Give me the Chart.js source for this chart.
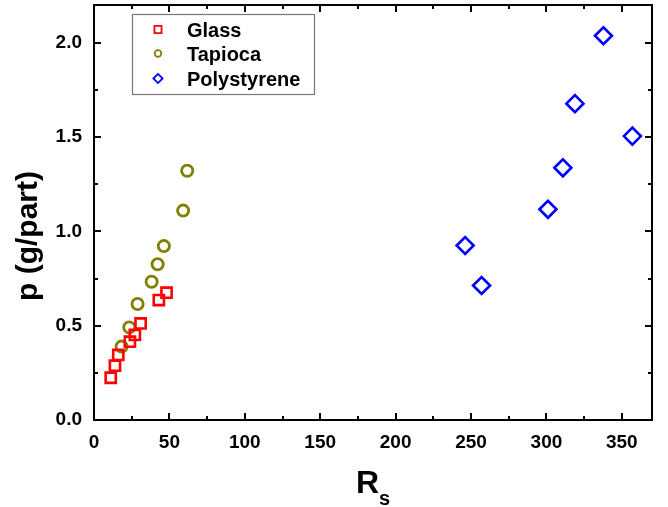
<!DOCTYPE html>
<html>
<head>
<meta charset="utf-8">
<script src="https://cdn.jsdelivr.net/npm/chart.js@4/dist/chart.umd.min.js"></script>
<style>
  html, body { margin: 0; padding: 0; background: #fff; }
  #wrap { width: 668px; height: 507px; }
</style>
</head>
<body>
<div id="wrap"><canvas id="rsChart"></canvas></div>
<script>
// values
const glassRs = [11.1, 13.9, 16.1, 23.8, 27.1, 30.9, 43.0, 48.1];
const glassP = [0.224, 0.288, 0.345, 0.415, 0.451, 0.512, 0.636, 0.675];
const tapiocaRs = [18.3, 23.4, 28.9, 38.2, 42.2, 46.3, 59.1, 61.8];
const tapiocaP = [0.389, 0.491, 0.615, 0.733, 0.826, 0.922, 1.11, 1.321];
const polyRs = [246.1, 257.0, 301.0, 310.9, 318.9, 337.8, 357.0];
const polyP = [0.925, 0.713, 1.117, 1.337, 1.677, 2.037, 1.505];
const seriesNames = ['Glass', 'Tapioca', 'Polystyrene'];

const FONT = "'Liberation Sans', Arial, sans-serif";
Chart.defaults.font.family = FONT;
Chart.defaults.color = '#000';

function toPoints(xs, ys) {
    return xs.map((x, i) => ({ x: x, y: ys[i] }));
}

// frame, inward ticks on all four sides, legend box and axis titles
const framePlugin = {
    id: 'frame',
    afterDraw(chart) {
        const ctx = chart.ctx;
        const a = chart.chartArea;
        const xs = chart.scales.x, ys = chart.scales.y;
        ctx.save();
        ctx.strokeStyle = '#000';
        ctx.lineWidth = 2;
        ctx.strokeRect(a.left, a.top, a.right - a.left, a.bottom - a.top);

        ctx.beginPath();
        xs.ticks.forEach(t => {
            const px = Math.round(xs.getPixelForValue(t.value));
            const len = t.label !== '' ? 7 : 4;
            ctx.moveTo(px, a.bottom); ctx.lineTo(px, a.bottom - len);
            ctx.moveTo(px, a.top); ctx.lineTo(px, a.top + len);
        });
        ys.ticks.forEach(t => {
            const py = Math.round(ys.getPixelForValue(t.value));
            const len = t.label !== '' ? 7 : 4;
            ctx.moveTo(a.left, py); ctx.lineTo(a.left + len, py);
            ctx.moveTo(a.right, py); ctx.lineTo(a.right - len, py);
        });
        ctx.stroke();

        // legend
        ctx.fillStyle = '#fff';
        ctx.fillRect(132, 14, 182, 80);
        ctx.strokeStyle = '#777';
        ctx.lineWidth = 1.2;
        ctx.strokeRect(132.5, 14.5, 182, 80);
        const baselines = [37, 61, 86];
        chart.data.datasets.forEach((ds, i) => {
            const r = ds.pointStyle === 'circle' ? 3.3 : (ds.pointStyle === 'rect' ? 5 : 4.6);
            ctx.strokeStyle = ds.borderColor;
            ctx.fillStyle = 'rgba(0,0,0,0)';
            ctx.lineWidth = 1.8;
            Chart.helpers.drawPoint(ctx, { pointStyle: ds.pointStyle, radius: r, rotation: 0, borderWidth: 1.8 }, 158, baselines[i] - 7.5);
            ctx.fillStyle = '#000';
            ctx.font = 'bold 20px ' + FONT;
            ctx.textBaseline = 'alphabetic';
            ctx.textAlign = 'left';
            ctx.fillText(ds.label, 187, baselines[i]);
        });

        // axis titles
        ctx.fillStyle = '#000';
        ctx.font = 'bold 32px ' + FONT;
        ctx.textAlign = 'left';
        ctx.fillText('R', 356, 493);
        ctx.font = 'bold 20px ' + FONT;
        ctx.fillText('s', 379, 505);

        ctx.translate(37, 236);
        ctx.rotate(-Math.PI / 2);
        ctx.font = 'bold 30px ' + FONT;
        ctx.textAlign = 'center';
        ctx.fillText('p (g/part)', 0, 0);
        ctx.restore();
    }
};

function fixBox(s, size) {
    if (s.isHorizontal()) s.height = size; else s.width = size;
    s.paddingTop = 0;
    s.paddingBottom = 0;
    s.paddingLeft = 0;
    s.paddingRight = 0;
}

const ctx = document.getElementById('rsChart').getContext('2d');
new Chart(ctx, {
    type: 'scatter',
    data: {
        datasets: [{
            label: seriesNames[0],
            data: toPoints(glassRs, glassP),
            pointStyle: 'rect',
            pointRadius: 7.2,
            borderWidth: 2.6,
            borderColor: '#ff0000',
            backgroundColor: 'rgba(0,0,0,0)'
        }, {
            label: seriesNames[1],
            data: toPoints(tapiocaRs, tapiocaP),
            pointStyle: 'circle',
            pointRadius: 5.6,
            borderWidth: 2.8,
            borderColor: '#808000',
            backgroundColor: 'rgba(0,0,0,0)'
        }, {
            label: seriesNames[2],
            data: toPoints(polyRs, polyP),
            pointStyle: 'rectRot',
            pointRadius: 8.5,
            borderWidth: 2.6,
            borderColor: '#0000ff',
            backgroundColor: 'rgba(0,0,0,0)'
        }]
    },
    options: {
        responsive: true,
        maintainAspectRatio: false,
        animation: false,
        layout: { autoPadding: false, padding: { top: 5, right: 16, left: 0, bottom: 0 } },
        plugins: {
            legend: { display: false },
            tooltip: { enabled: false }
        },
        scales: {
            x: {
                type: 'linear',
                min: 0,
                max: 370,
                grid: { display: false, drawTicks: false, tickLength: 0 },
                border: { display: false },
                ticks: {
                    stepSize: 25,
                    includeBounds: false,
                    maxRotation: 0,
                    autoSkip: false,
                    padding: 11,
                    font: { size: 19, weight: 'bold' },
                    callback: v => (v % 50 === 0 ? String(v) : '')
                },
                afterFit: s => fixBox(s, 87)
            },
            y: {
                type: 'linear',
                min: 0,
                max: 2.2,
                grid: { display: false, drawTicks: false, tickLength: 0 },
                border: { display: false },
                ticks: {
                    stepSize: 0.25,
                    includeBounds: false,
                    autoSkip: false,
                    padding: 12,
                    font: { size: 19, weight: 'bold' },
                    callback: v => (Math.abs(v * 2 - Math.round(v * 2)) < 1e-6 ? v.toFixed(1) : '')
                },
                afterFit: s => fixBox(s, 94)
            }
        }
    },
    plugins: [framePlugin]
});
</script>
</body>
</html>
